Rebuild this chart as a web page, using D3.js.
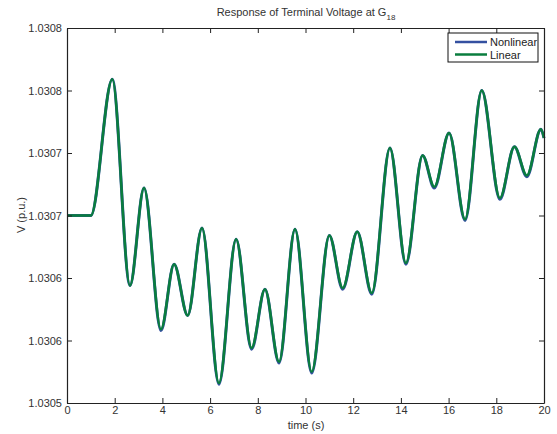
<!DOCTYPE html>
<html><head><meta charset="utf-8">
<script src="https://cdn.jsdelivr.net/npm/d3@7"></script>
<style>body{margin:0;background:#fff}svg{font-family:"Liberation Sans",Arial,sans-serif}</style>
</head><body><svg id="c" width="557" height="434"></svg>
<script>
const time = [0,1.0,1.9,2.64,3.23,3.94,4.49,5.06,5.66,6.37,7.09,7.74,8.30,8.89,9.56,10.26,11.0,11.56,12.17,12.78,13.54,14.21,14.91,15.40,16.02,16.69,17.39,18.15,18.76,19.28,19.87,20];
const linearV = [1.03065,1.03065,1.030759,1.030594,1.030672,1.030559,1.030611,1.030570,1.030640,1.030516,1.030631,1.030544,1.030591,1.030533,1.030639,1.030525,1.030634,1.030592,1.030637,1.030588,1.030704,1.030612,1.030698,1.030673,1.030716,1.030647,1.030750,1.030664,1.030705,1.030682,1.030719,1.030712];
const nonlinearV = [1.03065,1.03065,1.030759,1.030594,1.030672,1.030558,1.030611,1.030570,1.030640,1.030515,1.030631,1.030543,1.030591,1.030532,1.030639,1.030524,1.030634,1.030591,1.030637,1.030587,1.030704,1.030611,1.030698,1.030672,1.030716,1.030646,1.030750,1.030663,1.030705,1.030681,1.030719,1.030712];
const yTickVals = [1.0305,1.03055,1.0306,1.03065,1.0307,1.03075,1.0308];
const yTickLabels = ["1.0305","1.0306","1.0306","1.0307","1.0307","1.0308","1.0308"];
const xTickVals = [0,2,4,6,8,10,12,14,16,18,20];
const seriesNames = ["Nonlinear","Linear"];
const seriesColors = ["#3450a0","#0a7d3e"];

const svg = d3.select("#c");
const L=67,R=544,T=28,B=403;
const x = d3.scaleLinear().domain([0,20]).range([L,R]);
const y = d3.scaleLinear().domain([1.0305,1.0308]).range([B,T]);

const line = d3.line().x((d,i)=>x(time[i])).y(d=>y(d)).curve(d3.curveMonotoneX);
svg.append("path").attr("d",line(nonlinearV)).attr("fill","none").attr("stroke",seriesColors[0]).attr("stroke-width",3);
svg.append("path").attr("d",line(linearV)).attr("fill","none").attr("stroke",seriesColors[1]).attr("stroke-width",2.6);

const fs = 11;
const gx = svg.append("g").attr("transform",`translate(0,${B})`)
  .call(d3.axisBottom(x).tickValues(xTickVals).tickSizeInner(-5).tickSizeOuter(0).tickPadding(5));
const gxt = svg.append("g").attr("transform",`translate(0,${T})`)
  .call(d3.axisTop(x).tickValues(xTickVals).tickSizeInner(-5).tickSizeOuter(0).tickFormat(""));
const gy = svg.append("g").attr("transform",`translate(${L},0)`)
  .call(d3.axisLeft(y).tickValues(yTickVals).tickSizeInner(-5).tickSizeOuter(0).tickPadding(5).tickFormat((d,i)=>yTickLabels[i]));
const gyr = svg.append("g").attr("transform",`translate(${R},0)`)
  .call(d3.axisRight(y).tickValues(yTickVals).tickSizeInner(-5).tickSizeOuter(0).tickFormat(""));
[gx,gxt,gy,gyr].forEach(g=>{
  g.selectAll("path").attr("stroke","#222").attr("stroke-width",1.2);
  g.selectAll("line").attr("stroke","#222");
  g.selectAll("text").attr("fill","#333").style("font-size",fs+"px").style("font-family","'Liberation Sans',Arial,sans-serif");
});
gx.selectAll("text").attr("dy","0.55em");

const title = svg.append("text").attr("x",306).attr("y",16).attr("text-anchor","middle").attr("fill","#333").style("font-size","11px");
title.append("tspan").text("Response of Terminal Voltage at G");
title.append("tspan").attr("dy",4).style("font-size","8px").text("18");

svg.append("text").attr("x",306).attr("y",429).attr("text-anchor","middle").attr("fill","#333").style("font-size","11px").text("time (s)");
svg.append("text").attr("transform","translate(25,215) rotate(-90)").attr("text-anchor","middle").attr("fill","#333").style("font-size","11px").text("V (p.u.)");

const lg = svg.append("g");
lg.append("rect").attr("x",448).attr("y",33).attr("width",90).attr("height",29).attr("fill","#fff").attr("stroke","#111").attr("stroke-width",1);
seriesNames.forEach((n,i)=>{
  const yy = 42+i*12.5;
  lg.append("line").attr("x1",455).attr("x2",487).attr("y1",yy).attr("y2",yy).attr("stroke",seriesColors[i]).attr("stroke-width",2.5);
  lg.append("text").attr("x",490).attr("y",yy+4).attr("fill","#222").style("font-size","11px").text(n);
});
</script></body></html>
